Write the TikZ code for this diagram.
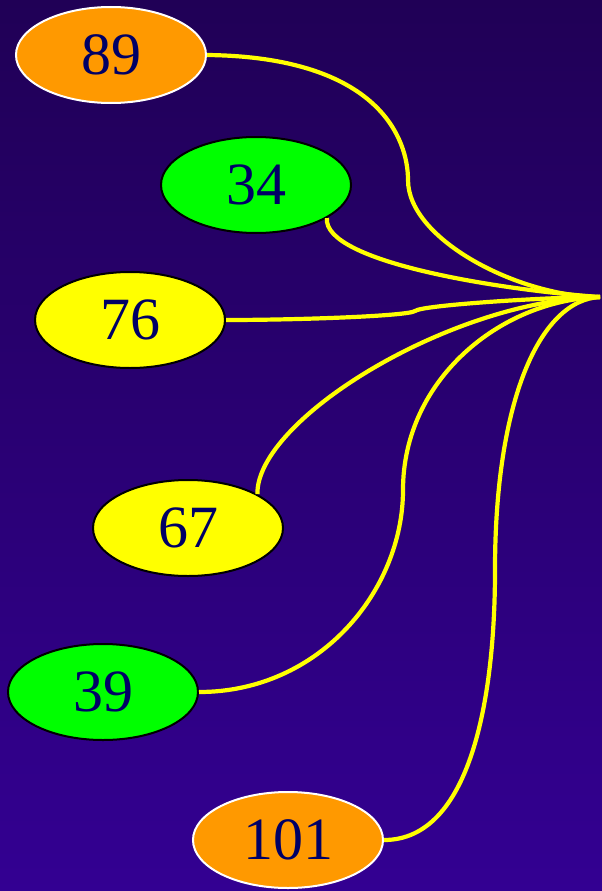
\documentclass[tikz,border=0pt]{standalone}
\usepackage{fontspec}
\setmainfont{Liberation Serif}
\usetikzlibrary{shapes.geometric}
\definecolor{bgtop}{RGB}{32,0,86}
\definecolor{bgbot}{RGB}{51,0,146}
\definecolor{txt}{RGB}{0,0,102}
\definecolor{orng}{RGB}{255,153,0}
\definecolor{grn}{RGB}{0,255,0}
\definecolor{ylw}{RGB}{255,255,0}
\tikzset{
  num/.style={ellipse, minimum width=190pt, minimum height=96pt, line width=2pt,
    text=txt, font=\fontsize{60}{60}\selectfont, inner sep=0pt},
  orangenode/.style={num, fill=orng, draw=white},
  greennode/.style={num, fill=grn, draw=black},
  yellownode/.style={num, fill=ylw, draw=black},
  link/.style={draw=ylw, line width=4.2pt}
}
\begin{document}
\begin{tikzpicture}[x=1pt,y=-1pt]
\shade[top color=bgtop, bottom color=bgbot] (0,0) rectangle (602,891);
\useasboundingbox (0,0) rectangle (602,891);
\coordinate (hub) at (600,297);
\node[orangenode] (n89) at (111,55) {89};
\node[greennode] (n34) at (256,185) {34};
\node[yellownode] (n76) at (130,320) {76};
\node[yellownode] (n67) at (188,528) {67};
\node[greennode] (n39) at (103,692) {39};
\node[orangenode] (n101) at (288,840) {101};
\draw[link] (n89.east) .. controls (380,57) and (408,140) .. (408,180)
  .. controls (408,240) and (520,297) .. (hub);
\draw[link] (n34.-25) .. controls (323,262) and (500,290) .. (hub);
\draw[link] (n76.east) .. controls (300,320) and (408,316) .. (415,311)
  .. controls (422,305) and (550,297) .. (hub);
\draw[link] (n67.26) .. controls (256,420) and (450,300) .. (hub);
\draw[link] (n39.east) .. controls (320,692) and (403,590) .. (403,490)
  .. controls (403,380) and (500,300) .. (hub);
\draw[link] (n101.east) .. controls (470,840) and (495,700) .. (495,570)
  .. controls (495,400) and (540,300) .. (hub);
\end{tikzpicture}
\end{document}
